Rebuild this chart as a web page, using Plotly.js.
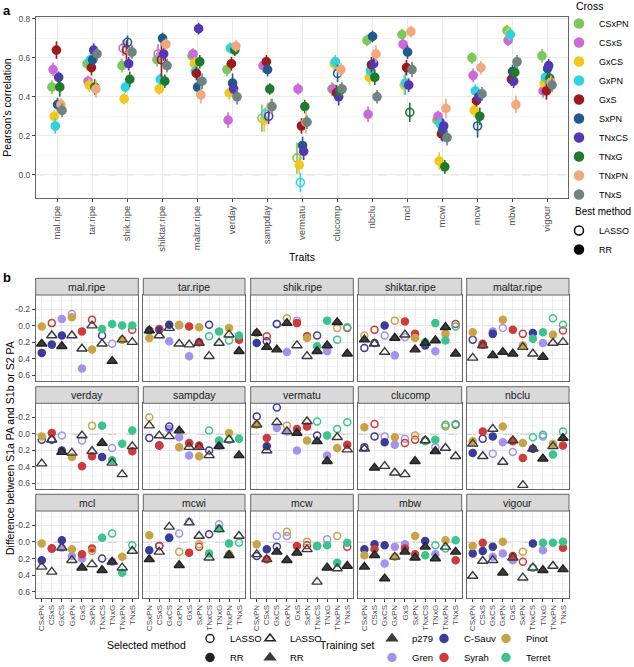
<!DOCTYPE html>
<html><head><meta charset="utf-8">
<script src="https://cdn.plot.ly/plotly-3.0.1.min.js"></script>
<style>body{margin:0;background:#fff}#chart{width:634px;height:667px}</style>
</head><body><div id="chart"></div>
<script>
// ---------- shared categories ----------
const traits = ['mal.ripe','tar.ripe','shik.ripe','shiktar.ripe','maltar.ripe','verday','sampday','vermatu','clucomp','nbclu','mcl','mcwi','mcw','mbw','vigour'];
const crosses = ['CSxPN','CSxS','GxCS','GxPN','GxS','SxPN','TNxCS','TNxG','TNxPN','TNxS'];
const crossColors = ['#7bc95c','#cc6ad9','#f0c81e','#2fd3df','#9e1a1a','#215b8b','#5537b5','#1f7a2b','#f2a87b','#6f8383'];

// ---------- panel a: Pearson's correlation per trait (order of traits) ----------
const corrCSxPN = [0.45,0.57,0.56,0.59,0.61,0.54,0.29,0.085,0.44,0.69,0.72,0.28,0.60,0.74,0.61];
const corrCSxS  = [0.54,0.48,0.65,0.62,0.62,0.28,0.56,0.44,0.44,0.31,0.67,0.30,0.51,0.69,0.43];
const corrGxCS  = [0.30,0.46,0.39,0.44,0.57,0.42,0.28,0.05,0.57,0.50,0.46,0.07,0.33,0.725,0.47];
const corrGxPN  = [0.25,0.59,0.45,0.49,0.53,0.65,0.31,-0.04,0.58,0.535,0.47,0.26,0.43,0.72,0.50];
const corrGxS   = [0.64,0.55,0.64,0.59,0.52,0.57,0.58,0.25,0.42,0.565,0.55,0.21,0.38,0.49,0.43];
const corrSxPN  = [0.36,0.59,0.68,0.70,0.45,0.47,0.54,0.15,0.52,0.71,0.63,0.23,0.25,0.53,0.545];
const corrTNxCS = [0.50,0.64,0.57,0.62,0.75,0.44,0.30,0.12,0.40,0.57,0.46,0.25,0.40,0.48,0.56];
const corrTNxG  = [0.45,0.45,0.49,0.48,0.58,0.64,0.44,0.35,0.43,0.50,0.32,0.04,0.30,0.525,0.495];
const corrTNxPN = [0.36,0.44,0.63,0.67,0.41,0.66,0.35,0.27,0.54,0.62,0.735,0.34,0.55,0.36,0.475];
const corrTNxS  = [0.33,0.62,0.63,0.56,0.48,0.40,0.35,0.27,0.44,0.40,0.54,0.19,0.415,0.58,0.46];
const corrByCross = [corrCSxPN,corrCSxS,corrGxCS,corrGxPN,corrGxS,corrSxPN,corrTNxCS,corrTNxG,corrTNxPN,corrTNxS];

const errCSxPN = [0.035,0.035,0.035,0.035,0.035,0.035,0.07,0.08,0.035,0.03,0.03,0.035,0.03,0.03,0.035];
const errCSxS  = [0.035,0.03,0.04,0.05,0.03,0.04,0.035,0.03,0.03,0.04,0.03,0.03,0.035,0.03,0.035];
const errGxCS  = [0.035,0.035,0.03,0.03,0.035,0.035,0.06,0.045,0.035,0.035,0.05,0.045,0.035,0.035,0.035];
const errGxPN  = [0.04,0.035,0.03,0.03,0.035,0.03,0.035,0.05,0.035,0.035,0.06,0.035,0.035,0.035,0.03];
const errGxS   = [0.045,0.04,0.05,0.09,0.035,0.035,0.035,0.04,0.04,0.04,0.04,0.035,0.03,0.035,0.045];
const errSxPN  = [0.035,0.035,0.035,0.03,0.045,0.05,0.035,0.045,0.045,0.03,0.035,0.06,0.06,0.035,0.035];
const errTNxCS = [0.03,0.035,0.035,0.035,0.03,0.035,0.04,0.045,0.045,0.035,0.035,0.035,0.035,0.035,0.035];
const errTNxG  = [0.05,0.04,0.04,0.035,0.035,0.03,0.03,0.035,0.035,0.04,0.05,0.035,0.045,0.035,0.035];
const errTNxPN = [0.035,0.045,0.03,0.03,0.045,0.03,0.04,0.06,0.035,0.045,0.03,0.05,0.035,0.045,0.035];
const errTNxS  = [0.035,0.035,0.035,0.035,0.04,0.04,0.04,0.035,0.035,0.035,0.04,0.04,0.035,0.035,0.035];
const errByCross = [errCSxPN,errCSxS,errGxCS,errGxPN,errGxS,errSxPN,errTNxCS,errTNxG,errTNxPN,errTNxS];

// best method per cross across traits: L = LASSO, R = RR
const bestMethod = ['RRRRRRLLRRRRRRR','RRLLRRRRRRRRRRR','RRRRRRRRRRRRRRR','RRRRRRLLRRRRRRR','RRLLRRRRRRRRRRR',
                    'RRLRRRRRLRRRLRR','RRRRRRLRRRRRRRR','RRRRRRRRRRLRRRR','RRLRRRRRRRRRRRR','RRRRRRRRRRRRRRR'];

// ---------- panel b: difference between S1a PA and S1b or S2 PA ----------
const trainingSets = ['p279','Gren','C-Sauv','Syrah','Pinot','Terret'];
const trainingColors = ['#3a3a3a','#a493ec','#3b3b9c','#cf3a3a','#c9a447','#3cc48d'];
const parentA = ['C-Sauv','C-Sauv','Gren','Gren','Gren','Syrah','Terret','Terret','Terret','Terret'];
const parentB = ['Pinot','Syrah','C-Sauv','Pinot','Syrah','Pinot','C-Sauv','Gren','Pinot','Syrah'];

// rows = traits, columns = crosses
const diffP279 = [
 [0.22,0.12,0.25,0.12,0.28,0.00,0.22,0.43,0.17,0.20],
 [0.06,0.12,0.03,0.22,0.23,0.21,0.37,0.21,0.11,0.31],
 [0.09,0.26,0.29,-0.03,0.24,0.37,0.31,0.24,-0.04,0.34],
 [0.17,0.22,0.32,0.15,0.11,0.29,0.21,0.18,0.02,0.34],
 [0.39,0.24,0.36,0.32,0.34,0.26,0.34,0.38,0.21,0.20],
 [0.36,0.07,0.22,0.23,0.02,0.21,0.11,0.35,0.49,0.15],
 [-0.10,0.02,0.03,-0.04,0.16,0.16,0.26,0.15,0.07,0.26],
 [-0.11,0.20,-0.14,-0.03,-0.01,-0.15,0.09,0.33,0.04,0.19],
 [0.18,0.41,0.39,0.47,0.49,0.33,0.08,0.21,0.17,0.27],
 [0.12,0.27,-0.06,0.34,0.08,0.62,0.18,0.30,0.15,0.05],
 [0.30,0.36,0.07,0.22,0.31,0.27,0.34,0.24,0.31,0.11],
 [0.21,0.12,-0.18,0.28,-0.23,-0.07,0.19,-0.15,0.16,-0.07],
 [0.15,0.21,0.12,0.22,0.13,0.09,0.48,0.31,0.32,0.29],
 [0.30,0.16,0.44,0.18,0.12,0.19,0.06,0.20,0.06,0.12],
 [0.41,0.23,0.22,0.37,0.19,0.43,0.31,0.34,0.29,0.33]];
const methP279 = ['RLRLLLLRLL','RLLLLLLLLR','RRRRLLRRRR','RLLRLRRRRR','LLRRRLLRLL','LLRLLLRLLL','LLLRLLLRLR','LLLLRLRRLL',
                  'LRLLLRLRLL','LLLLLLLRLR','LLLLRLRRLL','RLLRLLLLRL','LLRRRLLRLR','RRRLRRRRLR','LLLRLLLRLR'];
const diffParentA = [
 [0.33,0.23,-0.08,-0.14,0.52,-0.07,0.04,-0.02,0.00,0.00],
 [0.06,0.05,0.19,0.00,0.37,0.20,0.13,0.07,0.18,0.12],
 [0.21,0.19,-0.02,0.32,-0.06,0.13,0.25,-0.06,0.17,0.02],
 [0.27,0.21,0.12,0.36,0.14,0.10,0.20,-0.03,0.18,0.01],
 [0.17,0.23,0.07,0.03,null,0.10,0.16,0.08,-0.09,-0.01],
 [0.07,0.07,0.02,null,0.08,0.27,-0.10,0.32,0.12,-0.04],
 [0.05,0.14,-0.06,0.04,0.26,0.14,-0.04,0.08,0.07,0.06],
 [-0.21,0.15,-0.07,-0.03,0.20,-0.09,-0.15,0.02,-0.06,-0.14],
 [0.16,0.03,0.03,0.13,0.06,0.07,0.09,0.07,-0.11,-0.12],
 [0.23,0.06,0.24,0.10,0.22,0.29,0.04,0.01,0.25,-0.03],
 [0.22,0.08,0.07,0.17,0.20,0.08,-0.05,-0.10,0.37,0.04],
 [0.10,0.05,-0.05,-0.10,-0.24,0.06,0.14,-0.16,0.02,0.01],
 [0.17,0.09,-0.07,-0.07,null,0.04,0.05,0.04,0.25,0.01],
 [0.09,0.03,0.26,0.06,0.03,0.15,0.16,0.04,0.08,-0.02],
 [0.14,0.11,0.18,0.14,0.22,0.24,0.31,0.01,0.01,0.00]];
const methParentA = ['RRRLRLRRRR','RRRRRRLRLR','RLLRLRRRLL','LLLRLRRRRL','LRRLRLRRLL','LLLRLRRRRR','LRRRRRLRLR','LRRRRRLRLL',
                     'LLLRLLLRLL','RLLRLRLLRL','RLRRRRRLRL','RLRLLLRRRL','LRLLRLRRRR','RRRRRRRLLR','RRRRRLLRRR'];
const diffParentB = [
 [0.01,-0.03,0.12,-0.10,0.07,0.29,0.12,0.22,0.17,0.05],
 [0.15,0.04,-0.01,-0.01,0.01,0.02,-0.01,null,0.03,0.17],
 [0.09,0.13,-0.02,-0.09,-0.03,0.15,0.12,0.31,0.03,0.03],
 [0.12,0.05,0.00,-0.06,-0.05,0.15,0.24,0.31,0.10,-0.02],
 [0.08,0.22,0.10,-0.07,0.05,0.24,0.09,0.21,0.11,0.06],
 [0.03,-0.01,0.20,0.28,0.39,-0.10,0.28,0.17,null,0.21],
 [-0.20,0.14,-0.09,0.16,0.11,0.27,0.20,0.14,-0.01,null],
 [-0.11,0.05,-0.32,-0.10,-0.06,0.08,0.02,0.26,0.17,0.13],
 [-0.08,-0.12,0.10,0.04,0.11,0.02,0.08,0.16,-0.09,-0.11],
 [0.09,-0.03,0.03,-0.09,0.09,0.11,0.18,0.03,0.12,0.14],
 [0.02,0.08,-0.02,0.09,0.15,0.11,0.20,0.24,0.18,null],
 [-0.08,0.05,-0.05,0.12,0.13,0.03,-0.09,-0.21,0.15,null],
 [0.03,0.21,0.06,-0.12,0.05,0.00,0.05,-0.03,-0.07,0.06],
 [0.16,0.09,0.04,0.18,0.08,-0.07,-0.01,0.15,-0.02,0.22],
 [0.05,0.01,0.06,0.00,0.17,0.12,0.02,0.10,null,0.07]];
const methParentB = ['RLRRRRLLRL','RLRRRRLRRR','RLLLRRLRLL','LLRLRRRRRL','RRRRRRRRRL','RRRRRLRLRR','LRLRRRLRRR','RRLLRRLRRR',
                     'RLRRLLLLLL','RRRRRRRLRR','RRRRRLLRRR','RLRLRLLLRR','RRLLRLLLLL','RRRRRRRRRR','RRRRRLRRRR'];

const aTickVals = [0,0.2,0.4,0.6,0.8];
const aTickText = ['0.0','0.2','0.4','0.6','0.8'];
const bTickVals = [-0.2,0,0.2,0.4,0.6];
const bTickText = ['-0.2','0.0','0.2','0.4','0.6'];

// ---------- layout helpers ----------
const W = 634, H = 667;
const px = v => v / W, py = v => 1 - v / H;
const FONT = 'Liberation Sans, Arial, sans-serif';
const data = [];
const shapes = [];
const annotations = [];
const layout = {
  width: W, height: H, margin: {l:0, r:0, t:0, b:0, autoexpand:false},
  paper_bgcolor: '#fff', plot_bgcolor: '#fff',
  font: {family: FONT, size: 10, color: '#000'},
  scattermode: 'group', scattergap: 0.68,
  shapes, annotations
};

// panel a axes
layout.xaxis = {domain:[px(36), px(568)], anchor:'y', type:'category', categoryorder:'array', categoryarray:traits,
  range:[-0.6,14.6], tickmode:'linear', tick0:0, dtick:1, tickangle:-90, ticks:'outside', ticklen:3, tickcolor:'#444',
  tickfont:{size:9.5, color:'#4d4d4d'}, showgrid:true, gridcolor:'#ebebeb', showline:true, mirror:true,
  linecolor:'#666', linewidth:1, zeroline:false,
  title:{text:'Traits', font:{size:10.5, color:'#000'}, standoff:2}};
layout.yaxis = {domain:[py(198), py(17)], anchor:'x', range:[-0.12,0.81], tickmode:'array', tickvals:aTickVals, ticktext:aTickText,
  ticks:'outside', ticklen:3, tickcolor:'#444', tickfont:{size:8.5, color:'#4d4d4d'},
  showgrid:true, gridcolor:'#ebebeb', showline:true, mirror:true, linecolor:'#666', linewidth:1, zeroline:false,
  minor:{tickmode:'linear', tick0:0, dtick:0.1, showgrid:true, gridcolor:'#f5f5f5', ticks:''},
  title:{text:"Pearson's correlation", font:{size:10.5, color:'#000'}, standoff:4}};
shapes.push({type:'line', xref:'x domain', x0:0, x1:1, yref:'y', y0:0, y1:0, layer:'below', line:{color:'#8c8c8c', width:1, dash:'dash'}});

// panel a traces
crosses.forEach((c, ci) => {
  const meth = bestMethod[ci].split('');
  data.push({type:'scatter', mode:'markers', x:traits, y:corrByCross[ci], xaxis:'x', yaxis:'y', name:c,
    showlegend:false, offsetgroup:c,
    marker:{color:crossColors[ci], size:8, symbol:meth.map(m => m === 'L' ? 'circle-open' : 'circle'),
      line:{width:1.6, color:crossColors[ci]}},
    error_y:{type:'data', array:errByCross[ci], visible:true, color:crossColors[ci], thickness:1.6, width:0}});
});

// panel b facets
const colX = [[35.7,138.3],[143.3,245],[250.7,353.3],[358.3,461.7],[466.7,569]];
const rowY = [[295,381],[403.3,489.3],[511,597.7]];
const stripTop = [278.3,386.7,494.3];
const drawOrder = ['Gren','C-Sauv','Syrah','Pinot','Terret','p279'];

traits.forEach((t, k) => {
  const r = Math.floor(k / 5), c = k % 5, n = k + 2;
  layout['xaxis' + n] = {domain:[px(colX[c][0]), px(colX[c][1])], anchor:'y' + n, type:'category',
    categoryorder:'array', categoryarray:crosses, range:[-0.6,9.6], tickmode:'linear', tick0:0, dtick:1,
    showticklabels: r === 2, tickangle:-90, ticks: r === 2 ? 'outside' : '', ticklen:3, tickcolor:'#444',
    tickfont:{size:8, color:'#4d4d4d'}, showgrid:true, gridcolor:'#ebebeb',
    showline:true, mirror:true, linecolor:'#666', linewidth:1, zeroline:false};
  layout['yaxis' + n] = {domain:[py(rowY[r][1]), py(rowY[r][0])], anchor:'x' + n, range:[0.67,-0.37],
    tickmode:'array', tickvals:bTickVals, ticktext:bTickText, showticklabels: c === 0,
    ticks: c === 0 ? 'outside' : '', ticklen:3, tickcolor:'#444', tickfont:{size:8.5, color:'#4d4d4d'},
    showgrid:true, gridcolor:'#ebebeb', showline:true, mirror:true, linecolor:'#666', linewidth:1, zeroline:false,
    minor:{tickmode:'linear', tick0:0, dtick:0.1, showgrid:true, gridcolor:'#f5f5f5', ticks:''}};
  shapes.push({type:'line', xref:'x' + n + ' domain', x0:0, x1:1, yref:'y' + n, y0:0, y1:0, layer:'below',
    line:{color:'#8c8c8c', width:1, dash:'dash'}});
  shapes.push({type:'rect', xref:'paper', yref:'paper', x0:px(colX[c][0]), x1:px(colX[c][1]),
    y0:py(rowY[r][0]), y1:py(stripTop[r]), fillcolor:'#d9d9d9', line:{color:'#666', width:1}});
  annotations.push({xref:'paper', yref:'paper', x:px((colX[c][0] + colX[c][1]) / 2), y:py((stripTop[r] + rowY[r][0]) / 2),
    text:t, showarrow:false, font:{size:10.5, color:'#1a1a1a'}, xanchor:'center', yanchor:'middle'});

  drawOrder.forEach(s => {
    const si = trainingSets.indexOf(s);
    const xs = [], ys = [], syms = [];
    const isP = s === 'p279';
    const base = isP ? 'triangle-up' : 'circle';
    crosses.forEach((cr, i) => {
      let v = null, m = null;
      if (isP) { v = diffP279[k][i]; m = methP279[k][i]; }
      else if (parentA[i] === s) { v = diffParentA[k][i]; m = methParentA[k][i]; }
      else if (parentB[i] === s) { v = diffParentB[k][i]; m = methParentB[k][i]; }
      if (v !== null && m !== null) { xs.push(cr); ys.push(v); syms.push(m === 'L' ? base + '-open' : base); }
    });
    data.push({type:'scatter', mode:'markers', x:xs, y:ys, xaxis:'x' + n, yaxis:'y' + n, name:s,
      showlegend:false, offsetgroup:'b',
      marker:{color:trainingColors[si], size: isP ? 9 : 7, symbol:syms,
        line:{width: isP ? 1.4 : 1.5, color: isP ? '#222' : trainingColors[si]}}});
  });
});

// ---------- legends (dummy entries, no data) ----------
const dummy = (name, legend, color, symbol, size) => ({type:'scatter', mode:'markers', x:[null], y:[null],
  xaxis:'x2', yaxis:'y2', offsetgroup:'b', name, legend, showlegend:true,
  marker:{color, symbol, size, line:{width:1.5, color}}});
crosses.forEach((c, ci) => data.push(dummy(c, 'legend', crossColors[ci], 'circle', 9)));
data.push(dummy('LASSO', 'legend2', '#000', 'circle-open', 9));
data.push(dummy('RR', 'legend2', '#000', 'circle', 9));
data.push(dummy('LASSO', 'legend3', '#222', 'circle-open', 8));
data.push(dummy('RR', 'legend3', '#222', 'circle', 8));
data.push(dummy('LASSO', 'legend4', '#222', 'triangle-up-open', 9));
data.push(dummy('RR', 'legend4', '#3a3a3a', 'triangle-up', 9));
data.push(dummy('p279', 'legend5', '#3a3a3a', 'triangle-up', 9));
data.push(dummy('Gren', 'legend5', trainingColors[1], 'circle', 8));
data.push(dummy('C-Sauv', 'legend6', trainingColors[2], 'circle', 8));
data.push(dummy('Syrah', 'legend6', trainingColors[3], 'circle', 8));
data.push(dummy('Pinot', 'legend7', trainingColors[4], 'circle', 8));
data.push(dummy('Terret', 'legend7', trainingColors[5], 'circle', 8));

const legBase = {bgcolor:'rgba(0,0,0,0)', font:{size:9.5, color:'#000'}, tracegroupgap:0, itemclick:false, itemdoubleclick:false};
const legTop = 624;
layout.legend  = Object.assign({}, legBase, {x:px(559), y:py(9), xanchor:'left', yanchor:'top', font:{size:9, color:'#000'}});
layout.legend2 = Object.assign({}, legBase, {x:px(559), y:py(216), xanchor:'left', yanchor:'top', font:{size:9, color:'#000'}});
layout.legend3 = Object.assign({}, legBase, {x:px(190), y:py(legTop), xanchor:'left', yanchor:'top'});
layout.legend4 = Object.assign({}, legBase, {x:px(250), y:py(legTop), xanchor:'left', yanchor:'top'});
layout.legend5 = Object.assign({}, legBase, {x:px(372), y:py(legTop), xanchor:'left', yanchor:'top'});
layout.legend6 = Object.assign({}, legBase, {x:px(424), y:py(legTop), xanchor:'left', yanchor:'top'});
layout.legend7 = Object.assign({}, legBase, {x:px(486), y:py(legTop), xanchor:'left', yanchor:'top'});

// legend titles
annotations.push({xref:'paper', yref:'paper', x:px(574), y:py(6), text:'Cross', showarrow:false,
  xanchor:'left', yanchor:'middle', font:{size:10.5, color:'#000'}});
annotations.push({xref:'paper', yref:'paper', x:px(573), y:py(211), text:'Best method', showarrow:false,
  xanchor:'left', yanchor:'middle', font:{size:10, color:'#000'}});
annotations.push({xref:'paper', yref:'paper', x:px(188), y:py(645), text:'Selected method', showarrow:false,
  xanchor:'right', yanchor:'middle', font:{size:10.5, color:'#000'}});
annotations.push({xref:'paper', yref:'paper', x:px(318), y:py(645), text:'Training set', showarrow:false,
  xanchor:'left', yanchor:'middle', font:{size:10.5, color:'#000'}});

// panel labels and panel b y title
annotations.push({xref:'paper', yref:'paper', x:px(1), y:py(1), text:'<b>a</b>', showarrow:false, xanchor:'left', yanchor:'top', font:{size:13}});
annotations.push({xref:'paper', yref:'paper', x:px(1), y:py(268), text:'<b>b</b>', showarrow:false, xanchor:'left', yanchor:'top', font:{size:13}});
annotations.push({xref:'paper', yref:'paper', x:px(10), y:py(448), text:'Difference between S1a PA and S1b or S2 PA',
  showarrow:false, textangle:-90, xanchor:'center', yanchor:'middle', font:{size:10.5, color:'#000'}});

Plotly.newPlot('chart', data, layout, {displayModeBar:false, staticPlot:true});
</script>
</body></html>
